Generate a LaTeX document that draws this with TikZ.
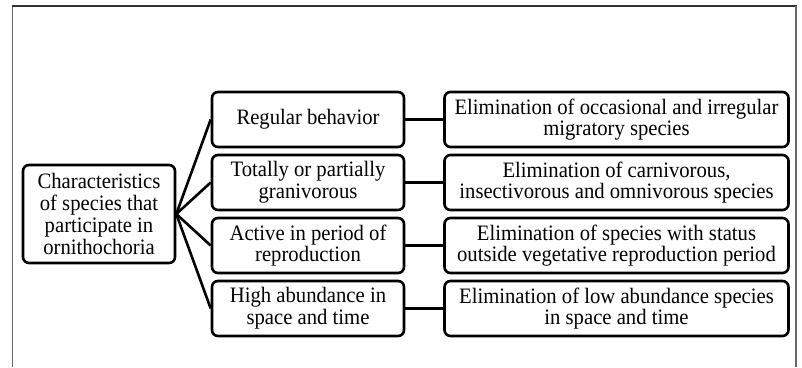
\documentclass[tikz,border=0pt]{standalone}
\usepackage{fontspec}
\setmainfont{Liberation Serif}[FakeStretch=0.94]
\begin{document}
\begin{tikzpicture}[x=1pt,y=-1pt,
  box/.style={draw=black, line width=2.6pt, rounded corners=6pt, align=center,
    inner sep=0pt, font=\fontsize{22}{21.7}\selectfont},
  lbox/.style={box, minimum width=152pt, minimum height=98pt},
  mbox/.style={box, minimum width=192pt, minimum height=55pt},
  rbox/.style={box, minimum width=344pt, minimum height=55pt},
  link/.style={line width=2.6pt, black}
]
\useasboundingbox (0,0) rectangle (802,367);
% frame
\draw[line width=1.6pt, gray!80!black] (12.5,367) -- (12.5,6);
\draw[line width=1.6pt, black!80] (11.7,6) -- (796.8,6);
\draw[line width=1.6pt, gray!80!black] (796,6) -- (796,367);

\node[lbox] (L) at (99,214) {Characteristics\\of species that\\participate in\\ornithochoria};

\node[mbox] (m1) at (308,119.5) {Regular behavior};
\node[mbox] (m2) at (308,182.5) {Totally or partially\\granivorous};
\node[mbox] (m3) at (308,245.5) {Active in period of\\reproduction};
\node[mbox] (m4) at (308,308.5) {High abundance in\\space and time};

\node[rbox] (r1) at (616.5,119.5) {Elimination of occasional and irregular\\migratory species};
\node[rbox] (r2) at (616.5,182.5) {Elimination of carnivorous,\\insectivorous and omnivorous species};
\node[rbox] (r3) at (616.5,245.5) {Elimination of species with status\\outside vegetative reproduction period};
\node[rbox] (r4) at (616.5,308.5) {Elimination of low abundance species\\in space and time};

\foreach \i in {1,2,3,4}{
  \draw[link] (L.east) -- (m\i.west);
  \draw[link] (m\i.east) -- (r\i.west);
}
\end{tikzpicture}
\end{document}
